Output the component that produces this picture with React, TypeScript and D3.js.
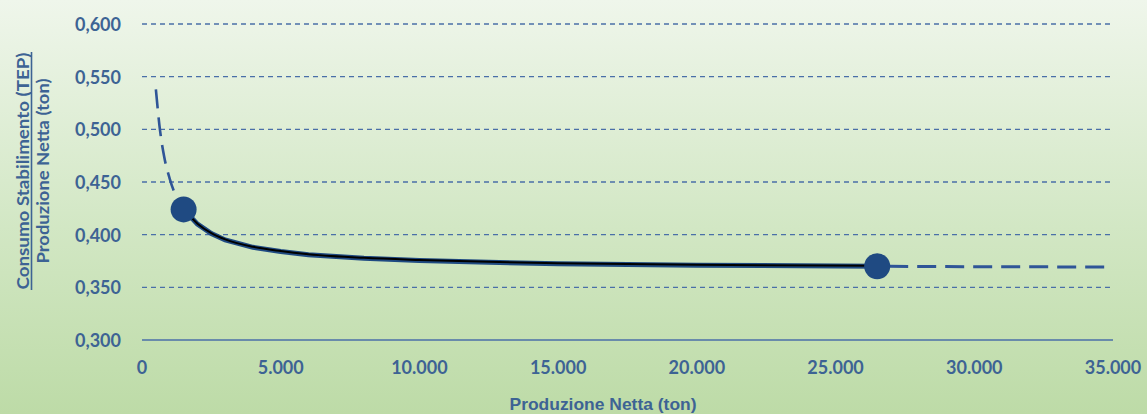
import * as d3 from "d3";

// Y = Consumo Stabilimento (TEP) / Produzione Netta (ton)
const fitX = [1500, 2000, 2500, 3000, 4000, 5000, 6000, 8000, 10000, 12500, 15000, 20000, 26500];
const fitY = [0.424, 0.41, 0.401, 0.395, 0.388, 0.384, 0.381, 0.3775, 0.3755, 0.3737, 0.3725, 0.371, 0.37];

const leftExtX = [500, 650, 800, 1000, 1200, 1400];
const leftExtY = [0.538, 0.499, 0.474, 0.453, 0.438, 0.428];

const rightExtX = [26500, 30000, 35000];
const rightExtY = [0.37, 0.3696, 0.3693];

const markerX = [1500, 26500];
const markerY = [0.424, 0.37];

const xTicks = [0, 5000, 10000, 15000, 20000, 25000, 30000, 35000];
const yTicks = [0.3, 0.35, 0.4, 0.45, 0.5, 0.55, 0.6];

const WIDTH = 1147;
const HEIGHT = 414;
const TEXT = "#3d6394";
const GRID = "#4a6fa8";
const NAVY = "#1f4a82";

const x = d3.scaleLinear().domain([0, 35000]).range([142, 1113]);
const y = d3.scaleLinear().domain([0.3, 0.6]).range([340, 24]);

const fmtX = (v: number) => d3.format(",")(v).replace(/,/g, ".");
const fmtY = (v: number) => d3.format(".3f")(v).replace(".", ",");

const toPts = (xs: number[], ys: number[]) => xs.map((v, i) => [v, ys[i]] as [number, number]);

export default function App() {
  const linear = d3
    .line<[number, number]>()
    .x((d) => x(d[0]))
    .y((d) => y(d[1]));
  const smooth = d3
    .line<[number, number]>()
    .x((d) => x(d[0]))
    .y((d) => y(d[1]))
    .curve(d3.curveMonotoneX);

  const fit = toPts(fitX, fitY);

  return (
    <svg
      width={WIDTH}
      height={HEIGHT}
      style={{ position: "absolute", left: 0, top: 0, display: "block" }}
    >
      <defs>
        <linearGradient id="bg" x1="0" y1="0" x2="0" y2="1">
          <stop offset="0%" stopColor="#eff6eb" />
          <stop offset="55%" stopColor="#d2e7c4" />
          <stop offset="100%" stopColor="#bddba7" />
        </linearGradient>
      </defs>
      <rect width={WIDTH} height={HEIGHT} fill="url(#bg)" />

      {/* grid */}
      {yTicks.map((t) =>
        t === 0.3 ? (
          <line key={t} x1={x(0)} x2={x(35000)} y1={y(t)} y2={y(t)} stroke={GRID} strokeWidth={1.5} />
        ) : (
          <line
            key={t}
            x1={x(0)}
            x2={x(35000)}
            y1={y(t)}
            y2={y(t)}
            stroke={GRID}
            strokeWidth={1.3}
            strokeDasharray="5,4"
          />
        )
      )}

      {/* tick labels */}
      <g fontFamily="Lato, 'Open Sans', sans-serif" fontWeight="bold" fontSize={18} fill={TEXT}>
        {yTicks.map((t) => (
          <text key={t} x={121} y={y(t)} textAnchor="end" dominantBaseline="central">
            {fmtY(t)}
          </text>
        ))}
        {xTicks.map((t) => (
          <text key={t} x={x(t)} y={367} textAnchor="middle" dominantBaseline="central">
            {fmtX(t)}
          </text>
        ))}
      </g>

      {/* axis titles */}
      <text
        x={603}
        y={404}
        textAnchor="middle"
        dominantBaseline="central"
        fontFamily="'Liberation Sans Narrow', 'Liberation Sans', sans-serif"
        fontWeight="bold"
        fontSize={17}
        fill={TEXT}
        textLength={187}
        lengthAdjust="spacingAndGlyphs"
      >
        Produzione Netta (ton)
      </text>
      <g
        transform="translate(22,171) rotate(-90)"
        fontFamily="Lato, 'Open Sans', sans-serif"
        fontWeight="bold"
        fontSize={17.5}
        fill={TEXT}
      >
        <text x={0} y={0} textAnchor="middle" dominantBaseline="central" textLength={237} lengthAdjust="spacingAndGlyphs">
          Consumo Stabilimento (TEP)
        </text>
        <line x1={-119} x2={119} y1={9.5} y2={9.5} stroke={TEXT} strokeWidth={1.6} />
        <text x={0} y={20} textAnchor="middle" dominantBaseline="central" textLength={185} lengthAdjust="spacingAndGlyphs">
          Produzione Netta (ton)
        </text>
      </g>

      {/* dashed extrapolations */}
      <path
        d={smooth(toPts(leftExtX, leftExtY)) ?? ""}
        fill="none"
        stroke="#2f5597"
        strokeWidth={2.6}
        strokeDasharray="19,9"
      />
      <path
        d={linear(toPts(rightExtX, rightExtY)) ?? ""}
        fill="none"
        stroke="#2f5597"
        strokeWidth={3}
        strokeDasharray="19,9"
        strokeDashoffset={-12}
      />

      {/* fitted curve */}
      <path d={linear(fit) ?? ""} fill="none" stroke={NAVY} strokeWidth={5} />
      <path d={smooth(fit) ?? ""} fill="none" stroke="#000" strokeWidth={2} transform="translate(0,-0.5)" />

      {/* markers */}
      {markerX.map((mx, i) => (
        <circle key={mx} cx={x(mx)} cy={y(markerY[i])} r={13} fill={NAVY} />
      ))}
    </svg>
  );
}
